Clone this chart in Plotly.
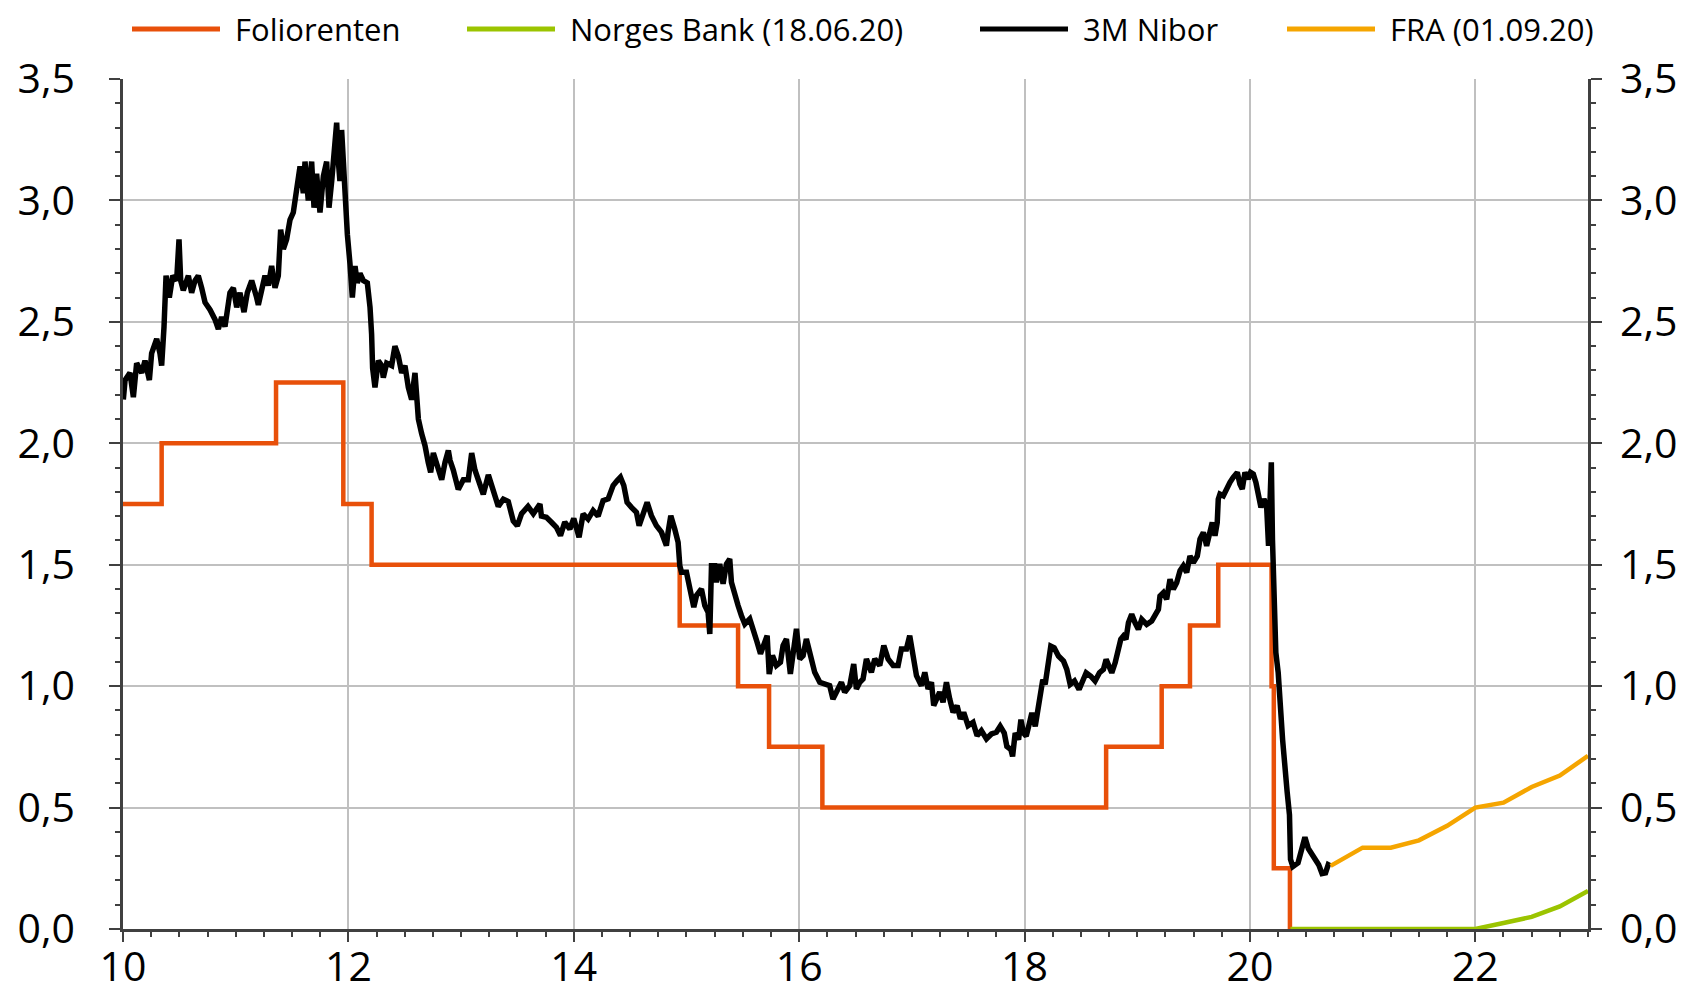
import plotly.graph_objects as go

# ---------------- data ----------------
fol_t = [10.0, 10.343, 11.358, 11.955, 12.206, 14.94, 15.458, 15.733, 16.206,
         18.724, 19.217, 19.468, 19.719, 20.192, 20.212, 20.355]
fol_v = [1.75, 2.0, 2.25, 1.75, 1.5, 1.25, 1.0, 0.75, 0.5,
         0.75, 1.0, 1.25, 1.5, 1.0, 0.25, 0.0]

nb_t = [20.36, 21.0, 21.5, 22.0, 22.25, 22.5, 22.75, 23.0]
nb_v = [0.0, 0.0, 0.0, 0.0, 0.025, 0.05, 0.093, 0.157]

fra_t = [20.716, 21.0, 21.25, 21.5, 21.75, 22.0, 22.25, 22.5, 22.75, 23.0]
fra_v = [0.26, 0.335, 0.335, 0.365, 0.425, 0.50, 0.52, 0.585, 0.632, 0.713]

nibor_t = [
    10.003, 10.018, 10.062, 10.092, 10.121, 10.166, 10.195, 10.234, 10.254, 10.299,
    10.328, 10.343, 10.364, 10.382, 10.411, 10.441, 10.476, 10.497, 10.512, 10.535,
    10.580, 10.609, 10.639, 10.668, 10.698, 10.728, 10.772, 10.816, 10.846, 10.875,
    10.905, 10.949, 10.979, 11.009, 11.038, 11.074, 11.103, 11.142, 11.186, 11.201,
    11.230, 11.260, 11.290, 11.319, 11.349, 11.378, 11.399, 11.423, 11.452, 11.482,
    11.511, 11.541, 11.571, 11.600, 11.615, 11.644, 11.674, 11.695, 11.718, 11.748,
    11.778, 11.807, 11.828, 11.852, 11.872, 11.896, 11.911, 11.925, 11.940, 11.955,
    11.970, 11.991, 12.014, 12.035, 12.059, 12.079, 12.103, 12.133, 12.168, 12.192,
    12.206, 12.215, 12.236, 12.266, 12.295, 12.310, 12.340, 12.384, 12.413, 12.443,
    12.473, 12.502, 12.532, 12.561, 12.591, 12.621, 12.650, 12.680, 12.709, 12.730,
    12.754, 12.783, 12.828, 12.857, 12.887, 12.902, 12.931, 12.975, 13.020, 13.064,
    13.094, 13.123, 13.168, 13.197, 13.242, 13.286, 13.330, 13.375, 13.419, 13.463,
    13.499, 13.537, 13.594, 13.641, 13.700,
    13.713, 13.757, 13.802, 13.846, 13.882, 13.920, 13.965, 14.000, 14.047, 14.083,
    14.127, 14.172, 14.216, 14.260, 14.305, 14.349, 14.385, 14.414, 14.444, 14.473,
    14.512, 14.556, 14.580, 14.615, 14.651, 14.689, 14.733, 14.778, 14.822, 14.837,
    14.861, 14.896, 14.926, 14.941, 14.956, 15.000, 15.029, 15.065, 15.089, 15.133,
    15.163, 15.192, 15.207, 15.222, 15.251, 15.266, 15.295, 15.325, 15.355, 15.384,
    15.399, 15.429, 15.458, 15.488, 15.518, 15.562, 15.592, 15.627, 15.657, 15.686,
    15.716, 15.734, 15.763, 15.798, 15.834, 15.857, 15.887, 15.922, 15.952, 15.976,
    16.005, 16.035, 16.064, 16.100, 16.138, 16.183, 16.227, 16.271, 16.300, 16.345,
    16.375, 16.404, 16.449, 16.484, 16.508, 16.538, 16.567, 16.597, 16.641, 16.671,
    16.715, 16.751, 16.789, 16.834, 16.878, 16.907, 16.952, 16.981, 17.011, 17.041,
    17.085, 17.115, 17.144, 17.174, 17.194, 17.218, 17.247, 17.277, 17.307, 17.336,
    17.366, 17.401, 17.431, 17.460, 17.499, 17.543, 17.579, 17.617, 17.662, 17.706,
    17.750,
    17.784, 17.820, 17.843, 17.879, 17.894, 17.917, 17.947, 17.968, 17.991, 18.015,
    18.044, 18.065, 18.095, 18.115, 18.139, 18.162, 18.183, 18.213, 18.233, 18.263,
    18.301, 18.346, 18.375, 18.405, 18.443, 18.484, 18.508, 18.547, 18.588, 18.626,
    18.665, 18.700, 18.724, 18.744, 18.774, 18.804, 18.824, 18.854, 18.877, 18.900,
    18.922, 18.951, 18.981, 19.010, 19.040, 19.084, 19.128, 19.158, 19.188, 19.202,
    19.232, 19.261, 19.291, 19.320, 19.350, 19.380, 19.409, 19.439, 19.468, 19.498,
    19.533, 19.557, 19.587, 19.616, 19.645, 19.666, 19.690, 19.710, 19.719, 19.734,
    19.764, 19.793, 19.823, 19.852, 19.888, 19.911, 19.932, 19.956, 19.985, 20.006,
    20.030, 20.053, 20.074, 20.098, 20.124, 20.148, 20.165, 20.177, 20.190, 20.200,
    20.213, 20.230, 20.251, 20.266, 20.290,
    20.330, 20.351, 20.360, 20.381, 20.427, 20.457, 20.488, 20.518, 20.564, 20.610,
    20.640, 20.671, 20.695, 20.716,
]
nibor_v = [
    2.18, 2.26, 2.29, 2.19, 2.33, 2.29, 2.34, 2.26, 2.37, 2.43,
    2.37, 2.32, 2.48, 2.69, 2.60, 2.69, 2.67, 2.84, 2.67, 2.63,
    2.69, 2.62, 2.67, 2.69, 2.64, 2.58, 2.55, 2.51, 2.47, 2.52,
    2.48, 2.62, 2.64, 2.56, 2.62, 2.54, 2.62, 2.67, 2.60, 2.57,
    2.63, 2.69, 2.65, 2.73, 2.64, 2.69, 2.88, 2.80, 2.84, 2.92,
    2.95, 3.03, 3.14, 3.03, 3.16, 3.00, 3.16, 2.97, 3.11, 2.95,
    3.10, 3.16, 2.97, 3.08, 3.22, 3.32, 3.16, 3.08, 3.29, 3.16,
    2.95, 2.86, 2.74, 2.60, 2.73, 2.66, 2.70, 2.67, 2.66, 2.56,
    2.45, 2.31, 2.23, 2.34, 2.32, 2.27, 2.33, 2.32, 2.40, 2.36,
    2.29, 2.32, 2.23, 2.18, 2.29, 2.10, 2.04, 1.99, 1.92, 1.88,
    1.96, 1.92, 1.85, 1.92, 1.97, 1.93, 1.89, 1.81, 1.85, 1.85,
    1.96, 1.89, 1.83, 1.79, 1.87, 1.81, 1.74, 1.77, 1.76, 1.68,
    1.66, 1.71, 1.74, 1.71, 1.75,
    1.700, 1.695, 1.675, 1.654, 1.620, 1.675, 1.647, 1.690, 1.613, 1.709,
    1.688, 1.723, 1.700, 1.764, 1.771, 1.826, 1.846, 1.860, 1.826, 1.757,
    1.736, 1.716, 1.661, 1.716, 1.757, 1.702, 1.661, 1.634, 1.579, 1.634,
    1.702, 1.647, 1.592, 1.496, 1.469, 1.469, 1.414, 1.325, 1.373, 1.400,
    1.332, 1.304, 1.215, 1.496, 1.496, 1.428, 1.503, 1.421, 1.503, 1.524,
    1.428, 1.373, 1.332, 1.290, 1.256, 1.277, 1.222, 1.181, 1.133, 1.167,
    1.208, 1.050, 1.126, 1.085, 1.098, 1.167, 1.194, 1.050, 1.153, 1.236,
    1.112, 1.126, 1.194, 1.126, 1.057, 1.016, 1.009, 1.002, 0.947, 0.988,
    1.016, 0.975, 1.002, 1.091, 0.988, 1.016, 1.030, 1.112, 1.057, 1.112,
    1.085, 1.167, 1.112, 1.085, 1.085, 1.153, 1.153, 1.208, 1.139, 1.043,
    1.002, 1.057, 0.988, 1.016, 0.920, 0.947, 0.975, 0.934, 1.016, 0.947,
    0.892, 0.920, 0.865, 0.892, 0.837, 0.851, 0.796, 0.817, 0.783, 0.803,
    0.810,
    0.835, 0.807, 0.752, 0.739, 0.711, 0.807, 0.780, 0.862, 0.807, 0.794,
    0.849, 0.890, 0.835, 0.890, 0.973, 1.027, 1.007, 1.110, 1.165, 1.158,
    1.124, 1.103, 1.069, 1.007, 1.021, 0.986, 1.014, 1.055, 1.041, 1.021,
    1.055, 1.069, 1.110, 1.083, 1.055, 1.096, 1.138, 1.193, 1.206, 1.193,
    1.261, 1.296, 1.261, 1.234, 1.275, 1.254, 1.268, 1.289, 1.316, 1.371,
    1.385, 1.358, 1.440, 1.399, 1.426, 1.475, 1.495, 1.468, 1.536, 1.509,
    1.536, 1.605, 1.633, 1.578, 1.633, 1.674, 1.619, 1.674, 1.770, 1.791,
    1.784, 1.818, 1.839, 1.860, 1.880, 1.832, 1.812, 1.880, 1.853, 1.880,
    1.873, 1.839, 1.784, 1.736, 1.770, 1.743, 1.578, 1.743, 1.922, 1.605,
    1.344, 1.138, 1.055, 0.917, 0.780,
    0.566, 0.470, 0.287, 0.257, 0.272, 0.331, 0.378, 0.331, 0.301, 0.265,
    0.228, 0.231, 0.265, 0.260,
]

x_ticks = [10, 12, 14, 16, 18, 20, 22]
y_ticks = [0.0, 0.5, 1.0, 1.5, 2.0, 2.5, 3.0, 3.5]

legend_labels = ["Foliorenten", "Norges Bank (18.06.20)", "3M Nibor", "FRA (01.09.20)"]
legend_colors = ["#E8500A", "#9BC400", "#000000", "#F5A500"]

# ---------------- layout constants ----------------
W, H = 1690, 991
OFF = 8                      # page (body) offset of the figure
ML, MT = 123 - OFF, 79 - OFF
PW, PH = 1465, 850
MR = W - ML - PW
MB = H - MT - PH
FONT = "Open Sans"
AXIS_COL = "#404040"
GRID_COL = "#C0C0C0"

fig = go.Figure()
fig.add_trace(go.Scatter(x=fol_t, y=fol_v, mode="lines", line_shape="hv",
                         line=dict(color=legend_colors[0], width=4.5),
                         name=legend_labels[0], showlegend=False))
fig.add_trace(go.Scatter(x=nb_t, y=nb_v, mode="lines",
                         line=dict(color=legend_colors[1], width=4.5),
                         name=legend_labels[1], showlegend=False))
fig.add_trace(go.Scatter(x=nibor_t, y=nibor_v, mode="lines",
                         line=dict(color=legend_colors[2], width=5.5),
                         name=legend_labels[2], showlegend=False))
fig.add_trace(go.Scatter(x=fra_t, y=fra_v, mode="lines", yaxis="y2",
                         line=dict(color=legend_colors[3], width=4.5),
                         name=legend_labels[3], showlegend=False))

tickfont = dict(family=FONT, size=41, color="#000000")
minor_y = dict(dtick=0.1, tick0=0, ticks="outside", ticklen=5,
               tickwidth=2, tickcolor=AXIS_COL, showgrid=False)

fig.update_layout(
    width=W, height=H,
    margin=dict(l=ML, r=MR, t=MT, b=MB, pad=0, autoexpand=False),
    paper_bgcolor="white", plot_bgcolor="white",
    separators=", ",
    showlegend=False,
    xaxis=dict(range=[10, 23], tickvals=x_ticks, ticktext=[str(v) for v in x_ticks],
               showgrid=True, gridcolor=GRID_COL, gridwidth=1.5,
               showline=True, linecolor=AXIS_COL, linewidth=2.5,
               ticks="outside", ticklen=10, tickwidth=2, tickcolor=AXIS_COL,
               minor=dict(dtick=0.25, tick0=10, ticks="outside", ticklen=5,
                          tickwidth=2, tickcolor=AXIS_COL, showgrid=False),
               tickfont=tickfont, ticklabelstandoff=-10, zeroline=False,
               automargin=False),
    yaxis=dict(range=[0, 3.5], tickvals=y_ticks, tickformat=".1f",
               showgrid=True, gridcolor=GRID_COL, gridwidth=1.5,
               showline=True, linecolor=AXIS_COL, linewidth=2.5,
               ticks="outside", ticklen=11, tickwidth=2, tickcolor=AXIS_COL,
               minor=minor_y, tickfont=tickfont, ticklabelstandoff=26,
               zeroline=False, automargin=False),
    yaxis2=dict(range=[0, 3.5], tickvals=y_ticks, tickformat=".1f",
                overlaying="y", side="right", showgrid=False,
                showline=True, linecolor=AXIS_COL, linewidth=2.5,
                ticks="outside", ticklen=11, tickwidth=2, tickcolor=AXIS_COL,
                minor=minor_y, tickfont=tickfont, ticklabelstandoff=10,
                zeroline=False, automargin=False),
)

# custom legend (line sample + label); positions given in page pixels
leg_line_x0 = [132, 467, 980, 1287]
LEG_LINE_LEN = 88
LEG_GAP = 14
LEG_Y = 29
ly = (MT + PH - (LEG_Y - OFF)) / PH
for lab, col, x0 in zip(legend_labels, legend_colors, leg_line_x0):
    px0 = (x0 - OFF - ML) / PW
    px1 = (x0 + LEG_LINE_LEN - OFF - ML) / PW
    fig.add_shape(type="line", xref="paper", yref="paper", x0=px0, x1=px1, y0=ly, y1=ly,
                  line=dict(color=col, width=5))
    fig.add_annotation(xref="paper", yref="paper",
                       x=(x0 + LEG_LINE_LEN + LEG_GAP - OFF - ML) / PW, y=ly,
                       xanchor="left", yanchor="middle", showarrow=False,
                       borderpad=0,
                       text=lab, font=dict(family=FONT, size=31, color="#000000"))

fig.write_html("out.html")
